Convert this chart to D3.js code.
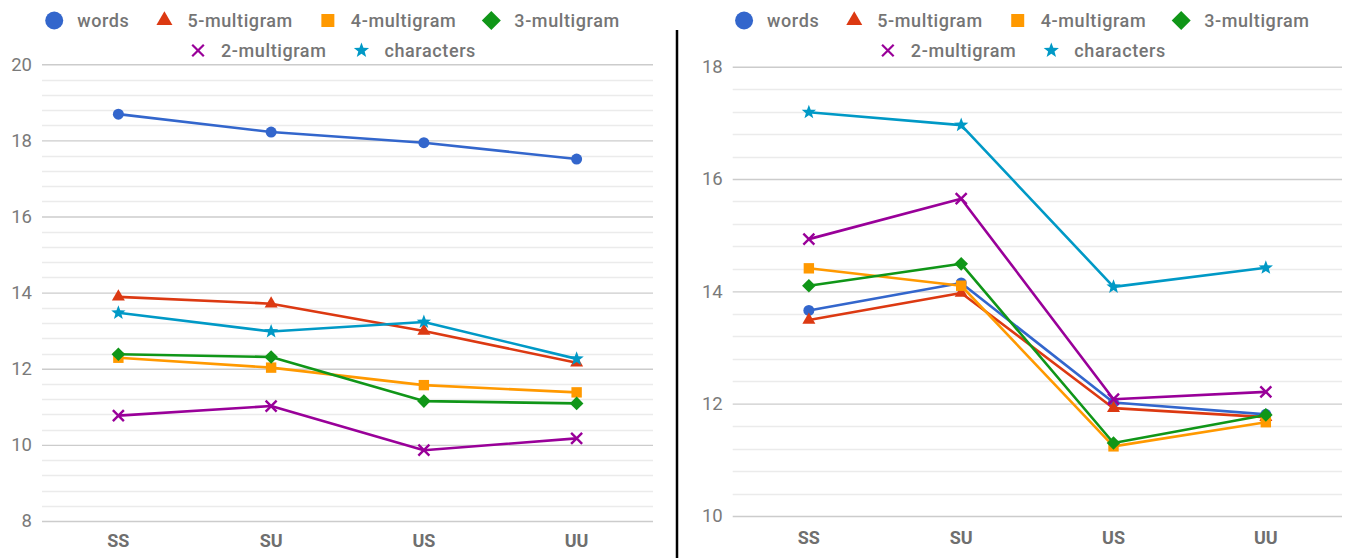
<!DOCTYPE html>
<html><head><meta charset="utf-8">
<script src="https://cdn.jsdelivr.net/npm/d3@7"></script>
<style>html,body{margin:0;padding:0;background:#fff;}svg{display:block;font-family:Roboto,"Noto Sans",sans-serif;}</style>
</head><body>
<svg id="chart" width="1346" height="558"></svg>
<script>
const categories = ["SS", "SU", "US", "UU"];
const seriesNames = ["words", "5-multigram", "4-multigram", "3-multigram", "2-multigram", "characters"];
const seriesColors = ["#3366cc", "#dc3912", "#ff9900", "#109618", "#990099", "#0099c6"];
const seriesShapes = ["circle", "triangle", "square", "diamond", "x", "star"];

// Left chart values
const leftWords  = [18.69, 18.22, 17.94, 17.51];
const left5gram  = [13.89, 13.71, 12.99, 12.16];
const left4gram  = [12.29, 12.03, 11.57, 11.38];
const left3gram  = [12.38, 12.31, 11.15, 11.09];
const left2gram  = [10.77, 11.02, 9.86, 10.17];
const leftChars  = [13.47, 12.98, 13.23, 12.26];
const leftTicks  = [8, 10, 12, 14, 16, 18, 20];

// Right chart values
const rightWords = [13.66, 14.15, 12.02, 11.81];
const right5gram = [13.49, 13.97, 11.92, 11.76];
const right4gram = [14.41, 14.10, 11.24, 11.67];
const right3gram = [14.10, 14.49, 11.30, 11.80];
const right2gram = [14.93, 15.65, 12.08, 12.21];
const rightChars = [17.19, 16.96, 14.08, 14.42];
const rightTicks = [10, 12, 14, 16, 18];

const svg = d3.select("#chart");

function shapePath(shape, r) {
  const p = d3.path();
  if (shape === "circle") { p.arc(0, 0, r, 0, 2 * Math.PI); }
  else if (shape === "triangle") {
    const h = r * Math.sqrt(3);
    p.moveTo(0, -h * 2 / 3); p.lineTo(r, h / 3); p.lineTo(-r, h / 3); p.closePath();
  } else if (shape === "square") { p.rect(-r, -r, 2 * r, 2 * r); }
  else if (shape === "diamond") {
    p.moveTo(0, -r); p.lineTo(r, 0); p.lineTo(0, r); p.lineTo(-r, 0); p.closePath();
  } else if (shape === "x") {
    p.moveTo(-r, -r); p.lineTo(r, r); p.moveTo(r, -r); p.lineTo(-r, r);
  } else if (shape === "star") {
    for (let i = 0; i < 10; i++) {
      const a = -Math.PI / 2 + i * Math.PI / 5;
      const rr = i % 2 === 0 ? r : r * 0.42;
      if (i === 0) p.moveTo(rr * Math.cos(a), rr * Math.sin(a)); else p.lineTo(rr * Math.cos(a), rr * Math.sin(a));
    }
    p.closePath();
  }
  return p.toString();
}
const plotR = {circle: 5.5, triangle: 6.5, square: 5.2, diamond: 6.8, x: 5.5, star: 7.5};
const legR  = {circle: 9, triangle: 8, square: 6.5, diamond: 9.5, x: 5.8, star: 8};

function drawMarker(g, shape, color, r, strokeW) {
  const el = g.append("path").attr("d", shapePath(shape, r));
  if (shape === "x") el.attr("fill", "none").attr("stroke", color).attr("stroke-width", strokeW);
  else el.attr("fill", color);
  return el;
}

function drawPanel(opt) {
  const g = svg.append("g");
  const x = d3.scaleBand().domain(categories).range([opt.left, opt.right]).padding(0);
  const y = d3.scaleLinear().domain([opt.ticks[0], opt.ticks[opt.ticks.length - 1]]).range([opt.bottom, opt.top]);

  // minor gridlines
  const minor = d3.range(opt.ticks[0], opt.ticks[opt.ticks.length - 1] + 0.001, 0.4)
    .filter(v => !opt.ticks.some(t => Math.abs(t - v) < 1e-6));
  g.append("g").selectAll("line").data(minor).join("line")
    .attr("x1", opt.left).attr("x2", opt.right)
    .attr("y1", d => Math.round(y(d)) + 0.5).attr("y2", d => Math.round(y(d)) + 0.5)
    .attr("stroke", "#ebebeb").attr("stroke-width", 1.3);

  // major gridlines + tick labels via axis
  const axis = d3.axisLeft(y).tickValues(opt.ticks).tickSize(-(opt.right - opt.left)).tickPadding(10).tickFormat(d3.format("d"));
  const ag = g.append("g").attr("transform", `translate(${opt.left},0)`).call(axis);
  ag.select(".domain").remove();
  ag.selectAll(".tick line").attr("stroke", "#cccccc").attr("stroke-width", 1.4);
  ag.selectAll(".tick text").attr("fill", "#7a7a7a").attr("font-size", 18.5).attr("font-family", "Roboto, sans-serif");

  // x labels
  g.append("g").selectAll("text").data(categories).join("text")
    .attr("x", d => x(d) + x.bandwidth() / 2).attr("y", opt.bottom + opt.xLabelOff)
    .attr("text-anchor", "middle").attr("dy", "0.35em")
    .attr("fill", "#6f6f6f").attr("font-size", 18).attr("font-weight", "bold").text(d => d);

  const line = d3.line().x((d, i) => x(categories[i]) + x.bandwidth() / 2).y(d => y(d));
  opt.series.forEach((vals, si) => {
    const sg = g.append("g");
    sg.append("path").datum(vals).attr("d", line).attr("fill", "none")
      .attr("stroke", seriesColors[si]).attr("stroke-width", 2.6).attr("stroke-linejoin", "round");
    vals.forEach((v, i) => {
      const mg = sg.append("g").attr("transform", `translate(${x(categories[i]) + x.bandwidth() / 2},${y(v)})`);
      drawMarker(mg, seriesShapes[si], seriesColors[si], plotR[seriesShapes[si]], 2.4);
    });
  });

  // legend
  const center = (opt.left + opt.right) / 2 - 15;
  const rows = [[0, 1, 2, 3], [4, 5]];
  const rowY = [20.5, 50.5];
  rows.forEach((row, ri) => {
    const lg = g.append("g");
    let cx = 0;
    row.forEach((si) => {
      const ig = lg.append("g");
      drawMarker(ig, seriesShapes[si], seriesColors[si], legR[seriesShapes[si]], 2.2);
      const t = ig.append("text").attr("x", 23).attr("dy", "0.35em").attr("font-size", 18)
        .attr("font-weight", 500).attr("letter-spacing", 0.6).attr("fill", "#757575").text(seriesNames[si]);
      const w = t.node().getComputedTextLength();
      ig.attr("transform", `translate(${cx},${rowY[ri]})`);
      cx += 23 + w + 35;
    });
    const total = cx - 35 + legR.circle;
    const start = center - total / 2 + legR.circle;
    lg.attr("transform", `translate(${start},0)`);
  });
}

drawPanel({left: 42, right: 653, top: 64.3, bottom: 521, ticks: leftTicks, xLabelOff: 20,
  series: [leftWords, left5gram, left4gram, left3gram, left2gram, leftChars]});
drawPanel({left: 732.7, right: 1342, top: 66.7, bottom: 516, ticks: rightTicks, xLabelOff: 22,
  series: [rightWords, right5gram, right4gram, right3gram, right2gram, rightChars]});

// separator
svg.append("line").attr("x1", 677).attr("x2", 677).attr("y1", 30).attr("y2", 558)
  .attr("stroke", "#000").attr("stroke-width", 2.5);
</script>
</body></html>
